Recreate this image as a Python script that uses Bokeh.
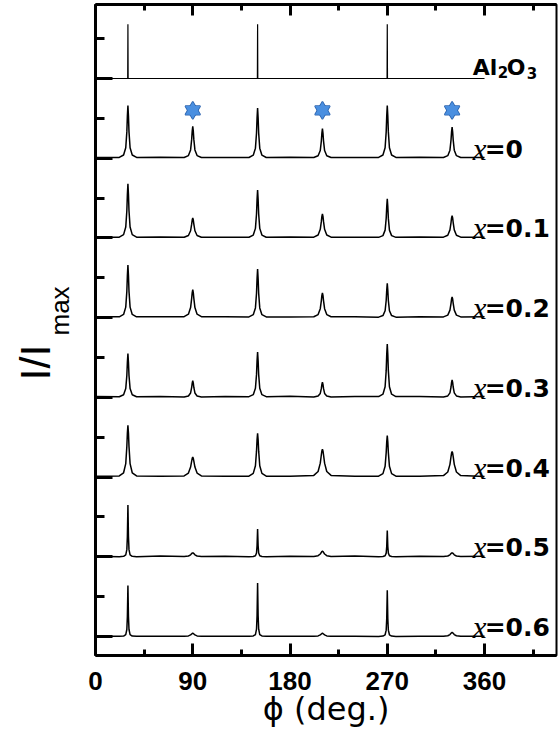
from bokeh.plotting import figure
from bokeh.models import Range1d, FixedTicker, LinearAxis, Label, Title
from bokeh.embed import file_html
from bokeh.resources import INLINE

# ---------------- data ----------------
X_TICKS = [0, 90, 180, 270, 360]
X_MINOR = [45, 135, 225, 315, 405]
Y_TICKS = [0, 1, 2, 3, 4, 5, 6, 7]
Y_MINOR = [0.5, 1.5, 2.5, 3.5, 4.5, 5.5, 6.5, 7.5]

PHI_AL = [0, 29.8, 30, 30.2, 149.8, 150, 150.2, 269.8, 270, 270.2, 360]
I_AL = [0, 0, 0.68, 0, 0, 0.68, 0, 0, 0.68, 0, 0]

PHI = [0,
       22, 26, 28, 29, 29.5, 30, 30.5, 31, 32, 34, 38,
       60,
       82, 86, 88, 89, 89.5, 90, 90.5, 91, 92, 94, 98,
       120,
       142, 146, 148, 149, 149.5, 150, 150.5, 151, 152, 154, 158,
       180,
       202, 206, 208, 209, 209.5, 210, 210.5, 211, 212, 214, 218,
       240,
       262, 266, 268, 269, 269.5, 270, 270.5, 271, 272, 274, 278,
       300,
       322, 326, 328, 329, 329.5, 330, 330.5, 331, 332, 334, 338,
       360]

I_X00 = [0.010,
         0.010, 0.040, 0.132, 0.330, 0.528, 0.660, 0.528, 0.330, 0.132, 0.040, 0.010,
         0.012,
         0.009, 0.033, 0.104, 0.236, 0.340, 0.400, 0.340, 0.236, 0.104, 0.033, 0.009,
         0.008,
         0.009, 0.038, 0.126, 0.315, 0.504, 0.630, 0.504, 0.315, 0.126, 0.038, 0.009,
         0.011,
         0.008, 0.031, 0.096, 0.218, 0.315, 0.370, 0.315, 0.218, 0.096, 0.031, 0.008,
         0.009,
         0.010, 0.040, 0.132, 0.330, 0.528, 0.660, 0.528, 0.330, 0.132, 0.040, 0.010,
         0.012,
         0.009, 0.032, 0.101, 0.230, 0.332, 0.390, 0.332, 0.230, 0.101, 0.032, 0.009,
         0.010]

I_X01 = [0.010,
         0.010, 0.041, 0.136, 0.340, 0.544, 0.680, 0.544, 0.340, 0.136, 0.041, 0.010,
         0.011,
         0.009, 0.031, 0.090, 0.173, 0.225, 0.250, 0.225, 0.173, 0.090, 0.031, 0.009,
         0.009,
         0.009, 0.036, 0.120, 0.300, 0.480, 0.600, 0.480, 0.300, 0.120, 0.036, 0.009,
         0.012,
         0.010, 0.037, 0.108, 0.207, 0.270, 0.300, 0.270, 0.207, 0.108, 0.037, 0.010,
         0.008,
         0.007, 0.029, 0.098, 0.245, 0.392, 0.490, 0.392, 0.245, 0.098, 0.029, 0.007,
         0.011,
         0.010, 0.034, 0.101, 0.193, 0.252, 0.280, 0.252, 0.193, 0.101, 0.034, 0.010,
         0.010]

I_X02 = [0.012,
         0.010, 0.040, 0.132, 0.330, 0.528, 0.660, 0.528, 0.330, 0.132, 0.040, 0.010,
         0.010,
         0.012, 0.043, 0.126, 0.242, 0.315, 0.350, 0.315, 0.242, 0.126, 0.043, 0.012,
         0.011,
         0.009, 0.037, 0.122, 0.305, 0.488, 0.610, 0.488, 0.305, 0.122, 0.037, 0.009,
         0.009,
         0.011, 0.038, 0.112, 0.214, 0.279, 0.310, 0.279, 0.214, 0.112, 0.038, 0.011,
         0.012,
         0.006, 0.026, 0.086, 0.215, 0.344, 0.430, 0.344, 0.215, 0.086, 0.026, 0.006,
         0.010,
         0.009, 0.032, 0.094, 0.179, 0.234, 0.260, 0.234, 0.179, 0.094, 0.032, 0.009,
         0.011]

I_X03 = [0.011,
         0.008, 0.033, 0.110, 0.275, 0.440, 0.550, 0.440, 0.275, 0.110, 0.033, 0.008,
         0.012,
         0.005, 0.017, 0.055, 0.124, 0.179, 0.210, 0.179, 0.124, 0.055, 0.017, 0.005,
         0.010,
         0.009, 0.034, 0.114, 0.285, 0.456, 0.570, 0.456, 0.285, 0.114, 0.034, 0.009,
         0.013,
         0.004, 0.016, 0.049, 0.112, 0.162, 0.190, 0.162, 0.112, 0.049, 0.016, 0.004,
         0.011,
         0.010, 0.040, 0.134, 0.335, 0.536, 0.670, 0.536, 0.335, 0.134, 0.040, 0.010,
         0.012,
         0.005, 0.018, 0.057, 0.130, 0.187, 0.220, 0.187, 0.130, 0.057, 0.018, 0.005,
         0.010]

I_X04 = [0.010,
         0.014, 0.054, 0.169, 0.384, 0.553, 0.650, 0.553, 0.384, 0.169, 0.054, 0.014,
         0.009,
         0.015, 0.050, 0.125, 0.200, 0.235, 0.250, 0.235, 0.200, 0.125, 0.050, 0.015,
         0.010,
         0.012, 0.046, 0.143, 0.325, 0.468, 0.550, 0.468, 0.325, 0.143, 0.046, 0.012,
         0.011,
         0.021, 0.070, 0.175, 0.280, 0.329, 0.350, 0.329, 0.280, 0.175, 0.070, 0.021,
         0.009,
         0.011, 0.043, 0.135, 0.307, 0.442, 0.520, 0.442, 0.307, 0.135, 0.043, 0.011,
         0.010,
         0.019, 0.064, 0.160, 0.256, 0.301, 0.320, 0.301, 0.256, 0.160, 0.064, 0.019,
         0.008]

I_X05 = [0.008,
         0.002, 0.006, 0.025, 0.090, 0.254, 0.650, 0.254, 0.090, 0.025, 0.006, 0.002,
         0.009,
         0.003, 0.010, 0.025, 0.040, 0.047, 0.050, 0.047, 0.040, 0.025, 0.010, 0.003,
         0.007,
         0.001, 0.003, 0.013, 0.048, 0.137, 0.350, 0.137, 0.048, 0.013, 0.003, 0.001,
         0.008,
         0.004, 0.014, 0.035, 0.056, 0.066, 0.070, 0.066, 0.056, 0.035, 0.014, 0.004,
         0.009,
         0.001, 0.003, 0.013, 0.046, 0.129, 0.330, 0.129, 0.046, 0.013, 0.003, 0.001,
         0.007,
         0.003, 0.010, 0.025, 0.040, 0.047, 0.050, 0.047, 0.040, 0.025, 0.010, 0.003,
         0.008]

I_X06 = [0.005,
         0.002, 0.006, 0.024, 0.088, 0.250, 0.640, 0.250, 0.088, 0.024, 0.006, 0.002,
         0.005,
         0.002, 0.008, 0.020, 0.032, 0.038, 0.040, 0.038, 0.032, 0.020, 0.008, 0.002,
         0.005,
         0.002, 0.007, 0.025, 0.092, 0.261, 0.670, 0.261, 0.092, 0.025, 0.007, 0.002,
         0.005,
         0.002, 0.008, 0.020, 0.032, 0.038, 0.040, 0.038, 0.032, 0.020, 0.008, 0.002,
         0.005,
         0.001, 0.006, 0.022, 0.080, 0.226, 0.580, 0.226, 0.080, 0.022, 0.006, 0.001,
         0.005,
         0.003, 0.010, 0.025, 0.040, 0.047, 0.050, 0.047, 0.040, 0.025, 0.010, 0.003,
         0.005]

COMPOSITIONS = ["0", "0.1", "0.2", "0.3", "0.4", "0.5", "0.6"]
FILM_SERIES = [I_X00, I_X01, I_X02, I_X03, I_X04, I_X05, I_X06]
STAR_PHI = [90, 210, 330]

for s in FILM_SERIES:
    assert len(s) == len(PHI)

# ---------------- figure ----------------
p = figure(width=558, height=748, output_backend="svg", toolbar_location=None,
           x_range=Range1d(0, 426.6), y_range=Range1d(-0.238, 7.928),
           x_axis_location=None, y_axis_location=None,
           min_border_left=95, min_border_right=2, min_border_top=4,
           min_border_bottom=93)
p.grid.visible = False
p.background_fill_color = "white"
p.border_fill_color = "white"
p.outline_line_color = "black"
p.outline_line_width = 2


def style_axis(ax, ticks, major_in, minor_in, show_labels):
    ax.axis_line_width = 3
    ax.axis_line_color = "black"
    ax.major_tick_line_width = 3
    ax.minor_tick_line_width = 3
    ax.major_tick_in = major_in
    ax.major_tick_out = 0
    ax.minor_tick_in = minor_in
    ax.minor_tick_out = 0
    if show_labels:
        ax.major_label_text_font = "Liberation Sans"
        ax.major_label_text_font_style = "bold"
        ax.major_label_text_font_size = "26px"
        ax.major_label_text_color = "black"
        ax.major_label_standoff = 16
    else:
        ax.major_label_overrides = {t: "" for t in ticks}
        ax.major_label_standoff = 0


xb = LinearAxis(ticker=FixedTicker(ticks=X_TICKS, minor_ticks=X_MINOR))
style_axis(xb, X_TICKS, 12, 6, True)
xb.axis_label = "\u03d5 (deg.)"
xb.axis_label_text_font = "DejaVu Sans"
xb.axis_label_text_font_style = "normal"
xb.axis_label_text_font_size = "32px"
xb.axis_label_text_color = "black"
xb.axis_label_standoff = -3
p.add_layout(xb, "below")

xt = LinearAxis(ticker=FixedTicker(ticks=X_TICKS, minor_ticks=X_MINOR))
style_axis(xt, X_TICKS, 11, 6, False)
p.add_layout(xt, "above")

yl = LinearAxis(ticker=FixedTicker(ticks=Y_TICKS, minor_ticks=Y_MINOR))
style_axis(yl, Y_TICKS, 17, 9, False)
p.add_layout(yl, "left")

# invisible spacer axis that pushes the y title away from the frame
spacer = LinearAxis(ticker=FixedTicker(ticks=[0], minor_ticks=[]))
spacer.axis_line_color = None
spacer.major_tick_line_color = None
spacer.minor_tick_line_color = None
spacer.major_tick_in = 0
spacer.major_tick_out = 31
spacer.minor_tick_in = 0
spacer.minor_tick_out = 0
spacer.major_label_overrides = {0: ""}
spacer.major_label_standoff = 0
p.add_layout(spacer, "left")

# y-axis title "I/I" with subscript "max" (two side-panel titles)
t_max = Title(text="max", align="left", offset=320, vertical_align="bottom",
              standoff=-20, text_font="Liberation Sans", text_font_size="26px",
              text_font_style="normal", text_color="black")
t_ii = Title(text="I/I", align="left", offset=275, vertical_align="bottom",
             standoff=-13, text_font="Liberation Sans", text_font_size="43px",
             text_font_style="normal", text_color="black")
p.add_layout(t_max, "left")
p.add_layout(t_ii, "left")

# traces (top: Al2O3 at offset 7, then x = 0 ... 0.6)
p.line(PHI_AL, [v + 7 for v in I_AL], line_color="black", line_width=1.2)
for i, inten in enumerate(FILM_SERIES):
    off = 6 - i
    p.line(PHI, [v + off for v in inten], line_color="black", line_width=1.5)

# stars over the x=0 film peaks (hexagram = two triangles)
star_y = [6.6] * len(STAR_PHI)
for m in ("triangle", "inverted_triangle"):
    p.scatter(STAR_PHI, star_y, marker=m, size=15, fill_color="#4a8fe0",
              line_color="#2c63ad", line_width=1.5)
for m in ("triangle", "inverted_triangle"):
    p.scatter(STAR_PHI, star_y, marker=m, size=15, fill_color="#4a8fe0",
              line_color=None)

# right-side labels
LX = 349
bold_font = "DejaVu Sans"
for txt, dx, dy, fs in (("Al", 0, 11, "22px"), ("2", 25, 6, "15px"),
                        ("O", 34, 11, "22px"), ("3", 54, 5, "15px")):
    p.add_layout(Label(x=LX, y=7, x_offset=dx, y_offset=dy, text=txt,
                       text_font=bold_font, text_font_style="bold",
                       text_font_size=fs, text_color="black",
                       text_baseline="alphabetic", text_align="left"))

for i, comp in enumerate(COMPOSITIONS):
    off = 6 - i
    p.add_layout(Label(x=LX, y=off, x_offset=0, y_offset=9, text="x",
                       text_font="Liberation Serif", text_font_style="italic",
                       text_font_size="31px", text_color="black",
                       text_baseline="alphabetic", text_align="left"))
    p.add_layout(Label(x=LX, y=off, x_offset=12, y_offset=9, text="=" + comp,
                       text_font=bold_font, text_font_style="bold",
                       text_font_size="25px", text_color="black",
                       text_baseline="alphabetic", text_align="left"))

open("out.html", "w").write(file_html(p, INLINE))
